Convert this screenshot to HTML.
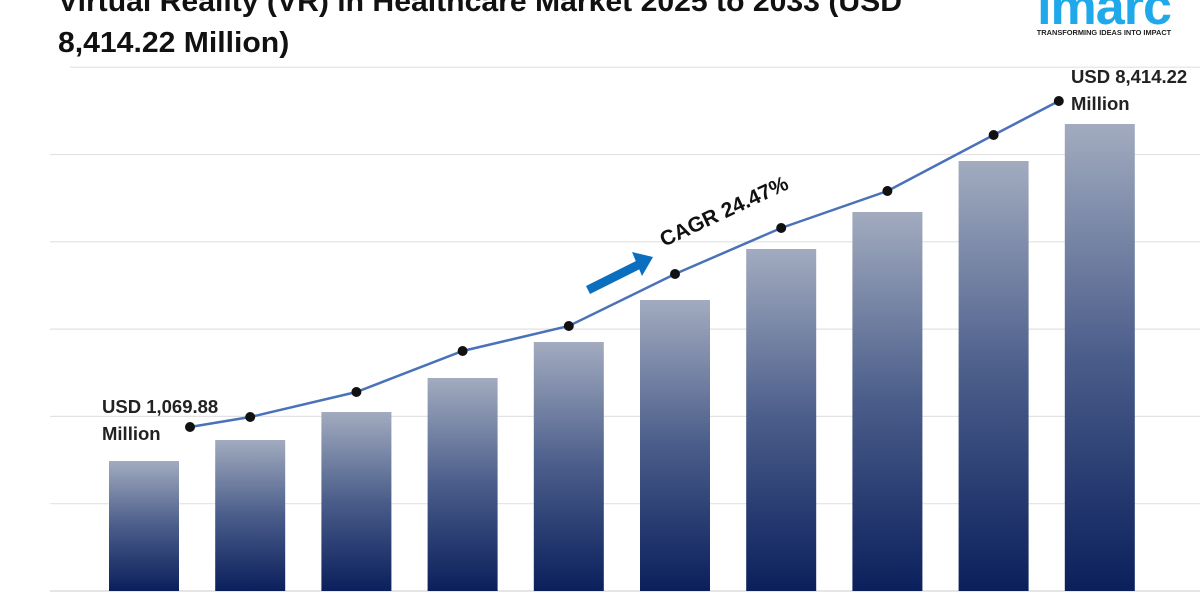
<!DOCTYPE html>
<html><head><meta charset="utf-8"><style>
body{margin:0;width:1200px;height:600px;overflow:hidden;background:#fff;font-family:"Liberation Sans",sans-serif}
</style></head><body>
<svg id="chart" width="1200" height="600" xmlns="http://www.w3.org/2000/svg">
<defs>
<linearGradient id="bg" x1="0" y1="0" x2="0" y2="1">
<stop offset="0" stop-color="#a2abbf"/><stop offset="0.5" stop-color="#4a5d8a"/><stop offset="1" stop-color="#0b1f5c"/>
</linearGradient>
</defs>
<g transform="translate(58,0) scale(1.04,1)">
<text x="0" y="11" font-size="29" font-weight="bold" fill="#111">Virtual Reality (VR) in Healthcare Market 2025 to 2033 (USD</text>
<text x="0" y="52" font-size="29" font-weight="bold" fill="#111">8,414.22 Million)</text>
</g>
<g>
<text x="1104" y="24" font-size="52" font-weight="bold" fill="#1fa8ea" text-anchor="middle" letter-spacing="-1">imarc</text>
<text x="1104" y="35" font-size="7.4" font-weight="bold" fill="#222" text-anchor="middle">TRANSFORMING IDEAS INTO IMPACT</text>
</g>
<g id="grid"></g><g id="bars"></g><g id="line"></g>
<g>
<line x1="588" y1="290" x2="638" y2="265" stroke="#0b6fc0" stroke-width="9"/>
<polygon points="632,252 653,257 642,276" fill="#0b6fc0"/>
<text transform="translate(664,247) rotate(-25)" font-size="21" font-weight="bold" fill="#111">CAGR 24.47%</text>
</g>
<g font-size="18.5" font-weight="bold" fill="#222">
<text x="102" y="413">USD 1,069.88</text><text x="102" y="440">Million</text></g>
<g font-size="18.5" font-weight="bold" fill="#222">
<text x="1071" y="83">USD 8,414.22</text><text x="1071" y="110">Million</text></g>
</svg>
<script>
const years=["2025","2026","2027","2028","2029","2030","2031","2032","2033","2034"];
const barValues=[130,151,179,213,249,291,342,379,430,467];
const lineValues=[164,174,199,240,265,317,363,400,456,490];
const gridTicks=[0,87.3,174.6,261.9,349.2,436.5,523.8];
const NS="http://www.w3.org/2000/svg";
const y0=591;
function yS(v){return y0-v;}
function xS(i){return 144+i*106.2;}
function lineX(i){if(i===0)return xS(0)+46;if(i===years.length-1)return xS(i)-41;return xS(i);}
const grid=document.getElementById('grid');
gridTicks.forEach((t,i)=>{const l=document.createElementNS(NS,'line');
l.setAttribute('x1',i===6?70:50);l.setAttribute('x2',1200);l.setAttribute('y1',yS(t));l.setAttribute('y2',yS(t));
l.setAttribute('stroke',i===0?'#d8d8d8':'#e2e2e2');l.setAttribute('stroke-width',1.2);


grid.appendChild(l);});
const bars=document.getElementById('bars');
barValues.forEach((v,i)=>{const r=document.createElementNS(NS,'rect');
r.setAttribute('x',xS(i)-35);r.setAttribute('width',70);r.setAttribute('y',yS(v));r.setAttribute('height',v);r.setAttribute('fill','url(#bg)');


bars.appendChild(r);});
const lg=document.getElementById('line');
const p=document.createElementNS(NS,'polyline');
p.setAttribute('points',lineValues.map((v,i)=>lineX(i)+','+yS(v)).join(' '));
p.setAttribute('fill','none');p.setAttribute('stroke','#4a72b8');p.setAttribute('stroke-width',2.5);


lg.appendChild(p);
lineValues.forEach((v,i)=>{const c=document.createElementNS(NS,'circle');
c.setAttribute('cx',lineX(i));c.setAttribute('cy',yS(v));c.setAttribute('r',5);c.setAttribute('fill','#111');


lg.appendChild(c);});
</script>
</body></html>
